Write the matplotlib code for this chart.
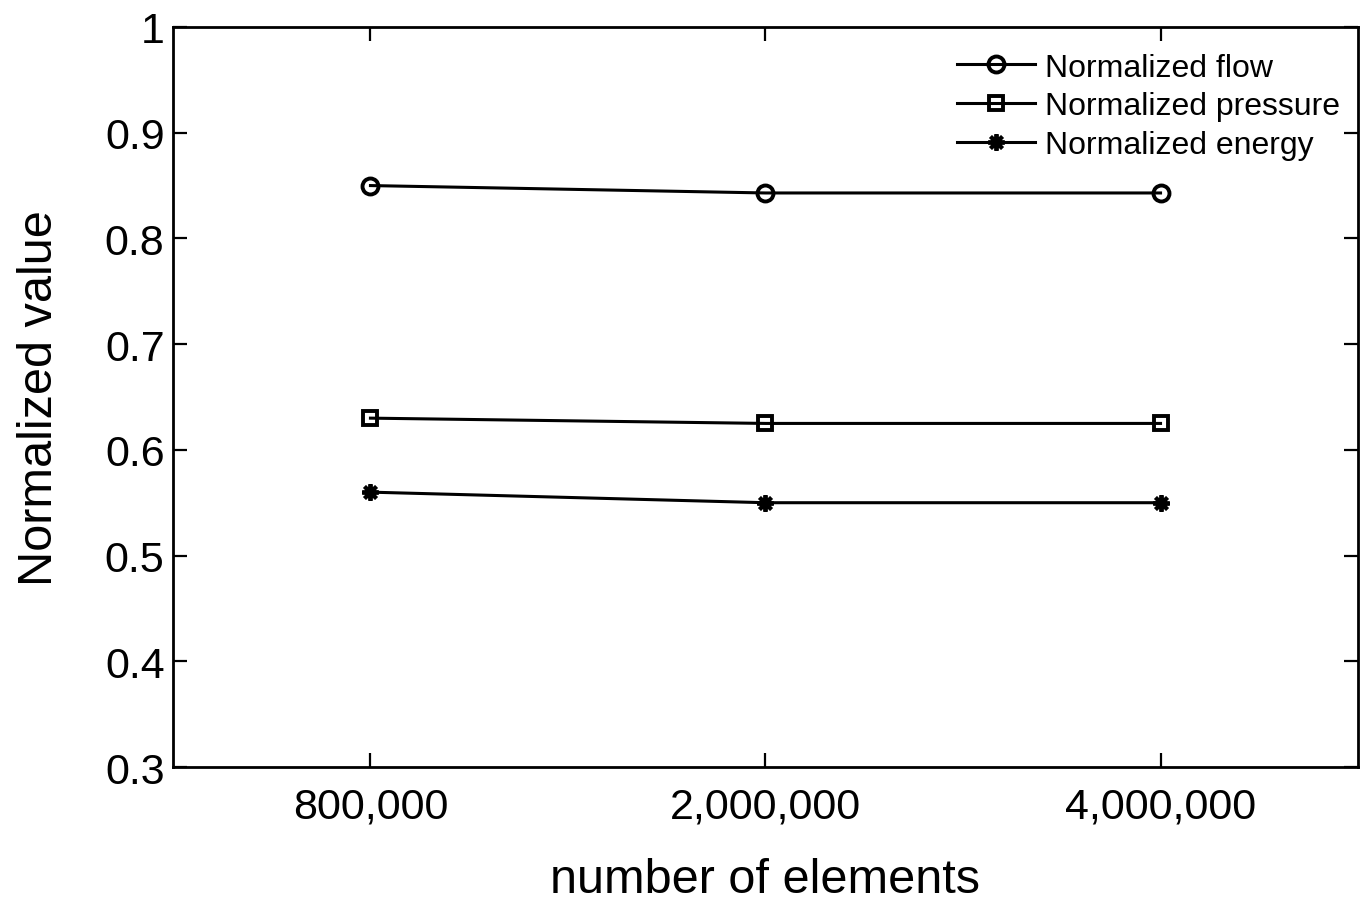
import matplotlib
matplotlib.use("Agg")
import matplotlib.pyplot as plt

plt.rcParams['font.family'] = ['Liberation Sans', 'DejaVu Sans']

categories = ["800,000", "2,000,000", "4,000,000"]
flow = [0.850, 0.843, 0.843]
pressure = [0.630, 0.625, 0.625]
energy = [0.560, 0.550, 0.550]
yticks = [0.3, 0.4, 0.5, 0.6, 0.7, 0.8, 0.9, 1.0]
ytick_labels = ["0.3", "0.4", "0.5", "0.6", "0.7", "0.8", "0.9", "1"]

fig = plt.figure(figsize=(13.65, 9.03), dpi=100)
ax = fig.add_axes([0.1267, 0.1495, 0.8682, 0.8195])

x = list(range(1, len(categories) + 1))
ax.plot(x, flow, color='black', lw=2.2, marker='o', ms=11.5, mfc='none', mew=2.8, label='Normalized flow')
ax.plot(x, pressure, color='black', lw=2.2, marker='s', ms=10, mfc='none', mew=2.8, label='Normalized pressure')
ax.plot(x, energy, color='black', lw=2.2, marker=(8, 2, 0), ms=12, mew=2.8, label='Normalized energy')

ax.set_xlim(0.5, 3.5)
ax.set_ylim(0.3, 1.0)
ax.set_xticks(x)
ax.set_xticklabels(categories)
ax.set_yticks(yticks)
ax.set_yticklabels(ytick_labels)
ax.tick_params(direction='in', top=True, right=True, length=10, width=1.6, labelsize=31)
ax.tick_params(axis='y', pad=6)
ax.tick_params(axis='x', pad=14)
for s in ax.spines.values():
    s.set_linewidth(2)
ax.set_xlabel('number of elements', fontsize=35, labelpad=22)
ax.set_ylabel('Normalized value', fontsize=35, labelpad=31)
leg = ax.legend(loc='upper right', bbox_to_anchor=(1.006, 1.0), frameon=False, fontsize=23,
                handlelength=2.45, handletextpad=0.3,
                labelspacing=0.28, borderaxespad=0.5, borderpad=0.3)
fig.savefig('out.png', dpi=100)
